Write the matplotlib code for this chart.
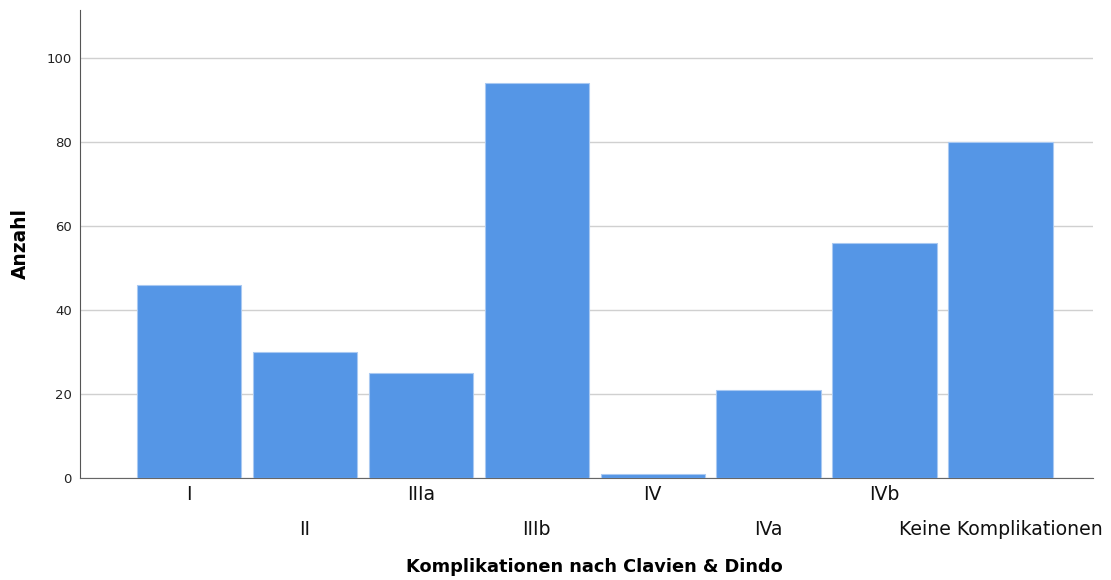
import matplotlib
matplotlib.use("Agg")
import matplotlib.pyplot as plt

categories = ["I", "II", "IIIa", "IIIb", "IV", "IVa", "IVb", "Keine Komplikationen"]
counts = [46, 30, 25, 94, 1, 21, 56, 80]
y_ticks = [0, 20, 40, 60, 80, 100]

plt.rcParams["font.family"] = ["DejaVu Sans"]

fig = plt.figure(figsize=(11.11, 5.8), dpi=100)
ax = fig.add_axes([0.072, 0.176, 0.912, 0.807])

x = list(range(len(categories)))
ax.bar(x, counts, width=0.9, color="#5596e6", edgecolor="#a9c9f2", linewidth=0.8, zorder=3)

ax.set_xlim(-0.94, 7.8)
ax.set_ylim(0, 111.4)
ax.set_yticks(y_ticks)
ax.yaxis.grid(True, color="#d0d0d0", linewidth=1.0, zorder=0)
ax.tick_params(axis="both", length=0)
ax.tick_params(axis="y", labelsize=9.5, colors="#222222", pad=6)

ax.set_xticks(x)
ax.set_xticklabels([])
for i, name in enumerate(categories):
    dy = -0.035 if i % 2 == 0 else -0.11
    ax.text(i, dy, name, transform=ax.get_xaxis_transform(), ha="center", va="center",
            fontsize=13.6, color="#111111")

for side in ("top", "right"):
    ax.spines[side].set_visible(False)
ax.spines["left"].set_color("#555555")
ax.spines["bottom"].set_color("#666666")

fig.text(0.535, 0.022, "Komplikationen nach Clavien & Dindo", ha="center", va="center",
         fontsize=12.8, fontweight="bold")
fig.text(0.018, 0.58, "Anzahl", ha="center", va="center", rotation=90,
         fontsize=13.4, fontweight="bold")

fig.savefig("out.png", dpi=100)
